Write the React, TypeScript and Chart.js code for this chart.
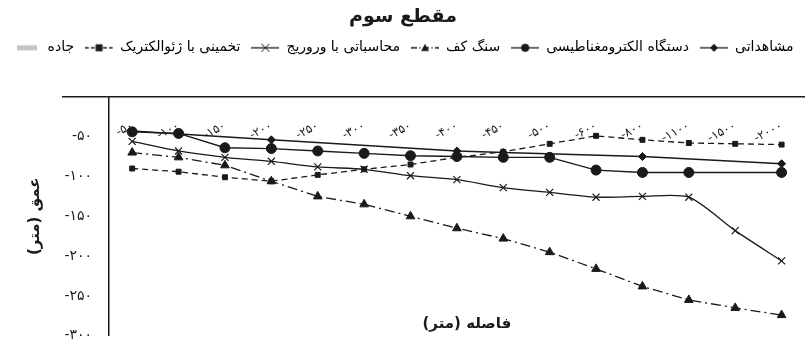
import React, { useEffect, useRef } from 'react';
import { Chart, registerables } from 'chart.js';

Chart.register(...registerables);

// ---- data ----
const categories = ['-۵۰', '-۱۰۰', '-۱۵۰', '-۲۰۰', '-۲۵۰', '-۳۰۰', '-۳۵۰', '-۴۰۰', '-۴۵۰', '-۵۰۰', '-۶۰۰', '-۸۰۰', '-۱۱۰۰', '-۱۵۰۰', '-۲۰۰۰'];

const observed = [-43, null, null, -54, null, null, null, -68, -70, null, null, -75, null, null, -84];
const electromagnetic = [-44, -46, -64, -65, -68, -71, -74, -75, -76, -76, -92, -95, -95, null, -95];
const bedrock = [-70, -76, -86, -106, -125, -135, -150, -165, -178, -195, -216, -238, -255, -265, -274];
const calculated = [-56, -68, -76, -81, -88, -91, -99, -104, -114, -120, -126, -125, -126, -168, -206];
const geoelectric = [-90, -94, -101, -106, -98, -91, -85, -76, -69, -59, -49, -54, -58, -59, -60];
const road = [null, null, null, null, null, null, null, null, null, null, null, null, null, null, null];

const yTickValues = [0, -50, -100, -150, -200, -250, -300];
const yTickLabels = ['', '-۵۰', '-۱۰۰', '-۱۵۰', '-۲۰۰', '-۲۵۰', '-۳۰۰'];

const seriesNames = ['مشاهداتی', 'دستگاه الکترومغناطیسی', 'سنگ کف', 'محاسباتی با وروریج', 'تخمینی با ژئوالکتریک', 'جاده'];

const chartTitle = 'مقطع سوم';
const yTitle = 'عمق (متر)\u200F';
const xTitle = 'فاصله (متر)\u200F';

const INK = '#1a1a1a';
const FONT = '"DejaVu Sans", sans-serif';

type Sym = { dash: number[]; marker: string; lw: number; color: string; len: number; r: number };

function makeSymbol(s: Sym): HTMLCanvasElement {
  const c = document.createElement('canvas');
  c.width = s.len;
  c.height = 14;
  const ctx = c.getContext('2d')!;
  ctx.strokeStyle = s.color;
  ctx.fillStyle = s.color;
  ctx.lineWidth = s.lw;
  ctx.setLineDash(s.dash);
  ctx.beginPath();
  ctx.moveTo(0, 7);
  ctx.lineTo(s.len, 7);
  ctx.stroke();
  ctx.setLineDash([]);
  const cx = s.len / 2, cy = 7, r = s.r;
  ctx.beginPath();
  if (s.marker === 'rectRot') {
    ctx.moveTo(cx, cy - r); ctx.lineTo(cx + r, cy); ctx.lineTo(cx, cy + r); ctx.lineTo(cx - r, cy); ctx.closePath(); ctx.fill();
  } else if (s.marker === 'circle') {
    ctx.arc(cx, cy, r, 0, Math.PI * 2); ctx.fill();
  } else if (s.marker === 'triangle') {
    ctx.moveTo(cx, cy - r); ctx.lineTo(cx + r, cy + r * 0.8); ctx.lineTo(cx - r, cy + r * 0.8); ctx.closePath(); ctx.fill();
  } else if (s.marker === 'crossRot') {
    ctx.lineWidth = 1;
    ctx.moveTo(cx - r, cy - r); ctx.lineTo(cx + r, cy + r); ctx.moveTo(cx + r, cy - r); ctx.lineTo(cx - r, cy + r); ctx.stroke();
  } else if (s.marker === 'rect') {
    ctx.fillRect(cx - r, cy - r, 2 * r, 2 * r);
  }
  return c;
}

export default function App() {
  const ref = useRef<HTMLCanvasElement | null>(null);

  useEffect(() => {
    document.body.style.margin = '0';
    document.body.style.background = '#ffffff';
    if (!ref.current) return;

    const styles = [
      { marker: 'rectRot', r: 4, dash: [] as number[], lw: 1.4, color: INK, tension: 0 },
      { marker: 'circle', r: 5, dash: [] as number[], lw: 1.4, color: INK, tension: 0 },
      { marker: 'triangle', r: 5, dash: [10, 4, 2, 4], lw: 1.3, color: INK, tension: 0 },
      { marker: 'crossRot', r: 5, dash: [] as number[], lw: 1.3, color: INK, tension: 0.25 },
      { marker: 'rect', r: 3.5, dash: [6, 4], lw: 1.3, color: INK, tension: 0 },
      { marker: 'line', r: 0, dash: [] as number[], lw: 5, color: '#c4c4c4', tension: 0 },
    ];
    const values = [observed, electromagnetic, bedrock, calculated, geoelectric, road];

    const datasets = values.map((d, i) => {
      const s = styles[i];
      return {
        label: seriesNames[i],
        data: d,
        borderColor: s.color,
        backgroundColor: s.color,
        borderWidth: s.lw,
        borderDash: s.dash,
        pointStyle: s.marker === 'line' ? 'line' : s.marker,
        pointRadius: s.r,
        pointBorderWidth: s.marker === 'crossRot' ? 1.2 : 1,
        pointBorderColor: s.color,
        pointBackgroundColor: s.color,
        tension: s.tension,
        spanGaps: true,
        fill: false,
      };
    });

    const symbols = styles.map((s) =>
      makeSymbol({ dash: s.dash.map((v) => v * 0.6), marker: s.marker, lw: s.marker === 'line' ? 5 : 1.3, color: s.color, len: s.marker === 'line' ? 20 : 28, r: Math.min(s.r, 4) })
    );

    const extras = {
      id: 'extras',
      beforeInit(chart: any) {
        const legend = chart.legend;
        if (legend && !legend.__patched) {
          const fit = legend.fit;
          legend.fit = function () {
            fit.call(this);
            this.height += 32;
          };
          legend.__patched = true;
        }
      },
      afterDraw(chart: any) {
        const { ctx, chartArea, scales } = chart;
        const y0 = scales.y.getPixelForValue(0);
        ctx.save();
        ctx.strokeStyle = INK;
        ctx.lineWidth = 1.5;
        ctx.beginPath();
        ctx.moveTo(chartArea.left - 47, y0);
        ctx.lineTo(chartArea.left, y0);
        ctx.stroke();
        ctx.fillStyle = INK;
        ctx.font = `bold 15px ${FONT}`;
        ctx.textAlign = 'center';
        ctx.textBaseline = 'middle';
        ctx.fillText(xTitle, (chartArea.left + chartArea.right) / 2 + 10, chartArea.bottom - 12);
        ctx.restore();
      },
    };

    const chart = new Chart(ref.current, {
      type: 'line',
      data: { labels: categories, datasets: datasets as any },
      options: {
        animation: false,
        responsive: true,
        maintainAspectRatio: false,
        layout: { padding: { left: 0, right: 5, top: 0, bottom: 0 } },
        plugins: {
          tooltip: { enabled: false },
          title: {
            display: true,
            text: chartTitle,
            color: INK,
            font: { family: FONT, size: 19, weight: 'bold' },
            padding: { top: 6, bottom: 1 },
          },
          legend: {
            display: true,
            position: 'top',
            labels: {
              usePointStyle: true,
              pointStyleWidth: 28,
              padding: 11,
              color: INK,
              font: { family: FONT, size: 14 },
              generateLabels: () =>
                [5, 4, 3, 2, 1, 0].map((i) => ({
                  text: seriesNames[i],
                  pointStyle: symbols[i] as any,
                  fillStyle: styles[i].color,
                  strokeStyle: styles[i].color,
                  lineWidth: 0,
                  hidden: false,
                  datasetIndex: i,
                })),
            },
          },
        },
        scales: {
          x: {
            type: 'category',
            position: { y: 0 } as any,
            offset: true,
            grid: { display: false, drawTicks: false },
            border: { display: true, color: INK, width: 1.5 },
            afterFit: (scale: any) => {
              scale.height = 0;
              scale.paddingLeft = 0;
              scale.paddingRight = 0;
              scale.paddingTop = 0;
              scale.paddingBottom = 0;
            },
            ticks: {
              autoSkip: false,
              minRotation: 28,
              maxRotation: 28,
              padding: 22,
              color: INK,
              font: { family: FONT, size: 12 },
            },
          },
          y: {
            min: -300,
            max: 0,
            grid: { display: false, drawTicks: false },
            border: { display: true, color: INK, width: 1.5 },
            afterBuildTicks: (scale: any) => {
              scale.ticks = yTickValues.map((v) => ({ value: v }));
            },
            afterFit: (scale: any) => {
              scale.width = 109;
              scale.paddingTop = 0;
              scale.paddingBottom = 2;
            },
            ticks: {
              padding: 17,
              color: INK,
              font: { family: FONT, size: 14 },
              callback: (v: any) => {
                const i = yTickValues.indexOf(Number(v));
                return i >= 0 ? yTickLabels[i] : '';
              },
            },
            title: {
              display: true,
              text: yTitle,
              color: INK,
              font: { family: FONT, size: 15, weight: 'bold' },
              padding: { top: 26, bottom: 4 },
            },
          },
        },
      },
      plugins: [extras],
    });

    return () => chart.destroy();
  }, []);

  return (
    <div style={{ width: 811, height: 342, position: 'relative', background: '#fff' }}>
      <canvas ref={ref} />
    </div>
  );
}
